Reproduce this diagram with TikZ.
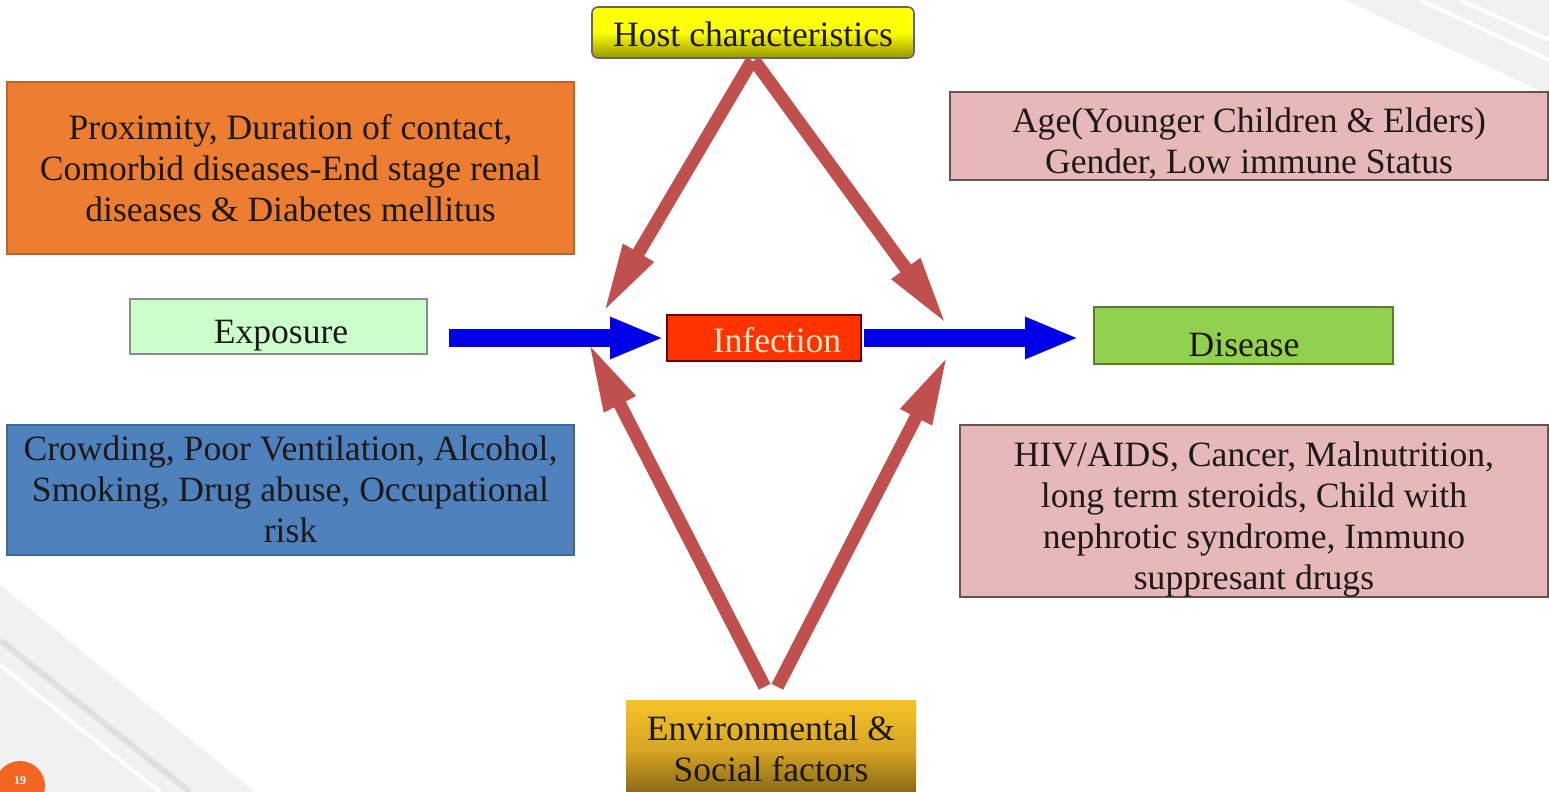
\documentclass[tikz,border=0pt]{standalone}
\usepackage{fontspec}
\setmainfont{Liberation Serif}
\usetikzlibrary{arrows.meta}
\definecolor{txt}{RGB}{30,25,25}
\definecolor{orangebox}{RGB}{236,125,49}
\definecolor{pinkbox}{RGB}{230,185,184}
\definecolor{bluebox}{RGB}{79,129,189}
\definecolor{expofill}{RGB}{204,255,204}
\definecolor{infill}{RGB}{255,51,0}
\definecolor{intext}{RGB}{255,228,196}
\definecolor{disfill}{RGB}{146,208,80}
\definecolor{redarr}{RGB}{192,80,77}
\definecolor{bluearr}{RGB}{0,0,230}
\definecolor{pagenum}{RGB}{242,101,34}
\definecolor{bgstripe}{RGB}{241,241,241}
\tikzset{
  box/.style={draw=black!55, line width=0.8pt, inner sep=0pt},
  lbl/.style={inner sep=0pt, align=center, text=txt,
    font=\rmfamily\fontsize{17.8}{20.5}\selectfont},
  redarrow/.style={draw=redarr, line width=6.5pt,
    -{Triangle[length=35pt,width=16pt]}},
  bluearrow/.style={draw=bluearr, line width=9pt,
    -{Triangle[length=27pt,width=19pt]}},
}
\begin{document}
\begin{tikzpicture}[x=0.5pt,y=-0.5pt]
\useasboundingbox (0,0) rectangle (1549,792);
\clip (0,0) rectangle (1549,792);
\fill[white] (0,0) rectangle (1549,792);
% background decoration
\fill[bgstripe] (1345,0) -- (1549,0) -- (1549,95) -- cycle;
\draw[white, line width=2pt] (1420,0) -- (1549,60);
\draw[white, line width=2pt] (1460,0) -- (1549,40);
\fill[bgstripe] (0,585) -- (255,792) -- (0,792) -- cycle;
\draw[black!12, line width=3pt] (0,640) -- (190,792);
\draw[white, line width=2pt] (0,665) -- (160,792);
\fill[pagenum] (20,786) circle (25);
\node[text=white, font=\fontsize{6}{7}\selectfont\bfseries] (pg) at (20,781) {19};

% boxes
\node[box, draw=black!60, rounded corners=3pt, minimum width=161pt, minimum height=25.5pt,
  top color=yellow!95!white, bottom color={rgb,255:red,150;green,150;blue,0},
  middle color=yellow] (host) at (753,32.5) {};
\node[box, fill=orangebox, draw=orangebox!80!black, minimum width=283.5pt, minimum height=86pt]
  (orange) at (290.5,168) {};
\node[box, fill=pinkbox, draw=black!55!pinkbox, minimum width=299pt, minimum height=44pt]
  (pinktop) at (1249,136) {};
\node[box, fill=expofill, draw=black!45, minimum width=148.5pt, minimum height=27.5pt]
  (expo) at (278.5,326.5) {};
\node[box, fill=infill, draw=black!60!red, minimum width=97pt, minimum height=23pt]
  (inf) at (764,338) {};
\node[box, fill=disfill, draw=black!40!disfill, minimum width=149.5pt, minimum height=28.5pt]
  (dis) at (1243.5,335.5) {};
\node[box, fill=bluebox, draw=bluebox!80!black, minimum width=283.5pt, minimum height=65pt]
  (blue) at (290.5,490) {};
\node[box, fill=pinkbox, draw=black!55!pinkbox, minimum width=294pt, minimum height=86pt]
  (pinkbot) at (1254,511) {};
\node[box, draw=none, minimum width=145pt, minimum height=50pt,
  top color={rgb,255:red,245;green,195;blue,40}, bottom color={rgb,255:red,125;green,95;blue,20},
  middle color={rgb,255:red,215;green,165;blue,35}]
  (env) at (771,750) {};

% texts
\node[lbl] (hostT) at (753,34) {Host characteristics};
\node[lbl] (orangeT) at (290.5,168) {Proximity, Duration of contact,\\Comorbid diseases-End stage renal\\diseases \& Diabetes mellitus};
\node[lbl] (pinktopT) at (1249,143) {Age(Younger Children \& Elders)\\Gender, Low immune Status};
\node[lbl] (expoT) at (281,336) {Exposure};
\node[lbl, text=intext] (infT) at (777,340) {Infection};
\node[lbl] (disT) at (1244,345) {Disease};
\node[lbl] (blueT) at (290.5,489) {Crowding, Poor Ventilation, Alcohol,\\Smoking, Drug abuse, Occupational\\risk};
\node[lbl] (pinkbotT) at (1254,519) {HIV/AIDS, Cancer, Malnutrition,\\long term steroids, Child with\\nephrotic syndrome, Immuno\\suppresant drugs};
\node[lbl] (envT) at (771,749) {Environmental \&\\Social factors};

% arrow tips
\coordinate (tA) at (603,313);
\coordinate (tB) at (947,325);
\coordinate (tC) at (588,342);
\coordinate (tD) at (948,355);

\draw[redarrow, shorten <=1pt] (host.south) -- (tA);
\draw[redarrow, shorten <=1pt] (host.south) -- (tB);
\draw[redarrow, shorten <=7pt] (env.north) -- (tC);
\draw[redarrow, shorten <=7pt] (env.north) -- (tD);

\draw[bluearrow, shorten <=10.5pt, shorten >=1pt] (expo.east |- inf.west) -- (inf.west);
\draw[bluearrow, shorten <=1pt, shorten >=7pt] (inf.east) -- (dis.west |- inf.east);
\end{tikzpicture}
\end{document}
